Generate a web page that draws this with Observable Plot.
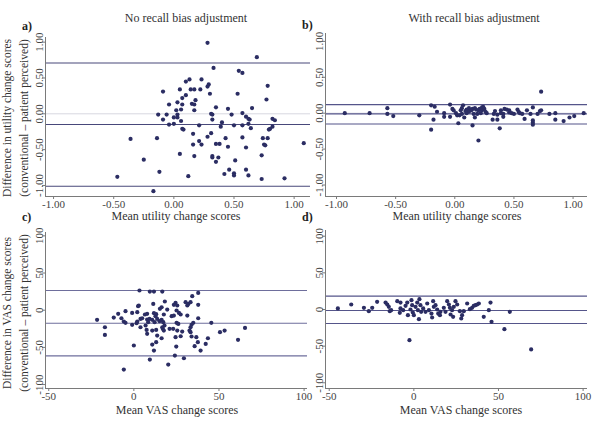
<!DOCTYPE html>
<html><head><meta charset="utf-8">
<script src="https://cdn.jsdelivr.net/npm/d3@7"></script>
<script src="https://cdn.jsdelivr.net/npm/@observablehq/plot@0.6"></script>
<style>
body{margin:0;background:#fff;}
#wrap{position:relative;width:600px;height:433px;overflow:hidden;font-family:"Liberation Serif","Times New Roman",serif;color:#333;background:#fff;}
.panel{position:absolute;}
.t{position:absolute;white-space:nowrap;transform:translate(-50%,-50%);line-height:1;}
.rot{transform:translate(-50%,-50%) rotate(-90deg);}
.tag{position:absolute;font-weight:bold;font-size:12px;line-height:1;color:#222;}
</style></head><body><div id="wrap"></div>
<script>
// ---------- data ----------
const utilTicks = [-1, -0.5, 0, 0.5, 1];
const vasXTicks = [-50, 0, 50, 100];
const vasYTicks = [-100, -50, 0, 50, 100];

const panelTitles = ["No recall bias adjustment", "With recall bias adjustment"];
const panelTags = ["a)", "b)", "c)", "d)"];
const xTitles = ["Mean utility change scores", "Mean utility change scores", "Mean VAS change scores", "Mean VAS change scores"];
const yTitleUtil = ["Difference in utility change scores", "(conventional \u2013 patient perceived)"];
const yTitleVAS = ["Difference in VAS change scores", "(conventional \u2013 patient perceived)"];

// mean, upper and lower limits of agreement
const aLines = [0.71, -0.15, -1.01];
const bLines = [0.12, -0.01, -0.15];
const cLines = [26.5, -17.5, -61.4];
const dLines = [18.2, -1.4, -19.1];

// [mean, difference]
const aPoints = [[0.28,0.99],[0.69,0.79],[0.33,0.64],[0.54,0.60],[0.57,0.57],[0.13,0.48],[0.23,0.48],[0.10,0.45],[0.28,0.38],[0.29,0.41],[0.78,0.39],[0.14,0.34],[0.17,0.34],[0.22,0.34],[0.05,0.34],[-0.09,0.31],[0.30,0.28],[0.53,0.28],[0.10,0.26],[0.07,0.22],[0.18,0.19],[0.77,0.20],[0.03,0.16],[-0.04,0.13],[0.07,0.13],[0.15,0.14],[0.17,0.13],[0.35,0.09],[0.45,0.07],[0.65,0.08],[0.06,0.06],[0.17,0.05],[0.02,0.05],[-0.13,-0.01],[-0.06,-0.01],[0.03,-0.01],[0.00,-0.05],[0.03,-0.05],[0.31,0.00],[0.32,-0.01],[0.57,0.01],[0.48,-0.01],[0.60,-0.04],[-0.09,-0.08],[0.06,-0.10],[0.32,-0.08],[0.40,-0.12],[0.62,-0.07],[0.63,-0.08],[0.82,-0.07],[0.84,-0.09],[0.62,-0.14],[0.00,-0.14],[-0.04,-0.15],[0.21,-0.16],[0.39,-0.18],[0.50,-0.16],[0.57,-0.16],[0.64,-0.20],[0.82,-0.18],[0.80,-0.21],[0.79,-0.22],[0.07,-0.21],[0.08,-0.22],[0.16,-0.28],[0.28,-0.32],[0.31,-0.27],[-0.36,-0.35],[-0.14,-0.34],[0.43,-0.34],[0.57,-0.33],[0.74,-0.34],[0.78,-0.34],[0.21,-0.38],[0.16,-0.43],[0.23,-0.43],[0.35,-0.42],[0.38,-0.42],[0.75,-0.43],[0.76,-0.44],[1.08,-0.41],[0.45,-0.46],[0.60,-0.47],[0.05,-0.56],[0.17,-0.59],[0.32,-0.59],[0.32,-0.61],[0.37,-0.61],[0.73,-0.58],[-0.25,-0.64],[0.35,-0.67],[0.51,-0.65],[0.46,-0.78],[0.60,-0.78],[-0.12,-0.81],[0.42,-0.84],[0.50,-0.83],[0.50,-0.86],[0.62,-0.86],[-0.47,-0.88],[0.12,-0.87],[0.73,-0.91],[0.92,-0.90],[-0.17,-1.08]];

const bPoints = [[-0.93,0.00],[-0.72,0.00],[-0.57,0.07],[-0.57,-0.01],[-0.52,-0.04],[-0.30,-0.03],[-0.20,-0.23],[-0.20,0.11],[-0.17,0.09],[-0.18,-0.09],[-0.15,0.02],[-0.09,0.00],[-0.09,-0.05],[-0.04,0.12],[-0.04,-0.05],[-0.02,0.06],[-0.01,0.04],[0.01,0.00],[0.02,-0.03],[0.03,-0.14],[0.05,0.04],[0.06,-0.01],[0.06,0.07],[0.07,0.11],[0.08,-0.06],[0.10,0.00],[0.10,0.05],[0.12,0.07],[0.15,-0.17],[0.14,0.04],[0.15,0.06],[0.16,-0.01],[0.17,-0.06],[0.17,0.07],[0.19,-0.01],[0.20,0.04],[0.20,-0.38],[0.21,0.06],[0.22,0.00],[0.23,0.08],[0.23,0.04],[0.24,0.09],[0.27,0.00],[0.32,-0.09],[0.33,-0.01],[0.34,0.03],[0.36,-0.09],[0.36,-0.02],[0.38,-0.21],[0.39,0.04],[0.39,0.00],[0.41,-0.01],[0.41,-0.05],[0.42,0.06],[0.44,0.05],[0.46,0.01],[0.46,0.04],[0.48,0.00],[0.50,-0.01],[0.53,0.05],[0.54,0.02],[0.55,0.00],[0.57,-0.01],[0.59,-0.08],[0.61,0.04],[0.64,-0.01],[0.66,-0.13],[0.66,-0.10],[0.66,-0.16],[0.66,0.08],[0.70,-0.01],[0.72,0.03],[0.73,0.30],[0.73,0.04],[0.80,-0.01],[0.85,0.00],[0.85,-0.09],[0.92,-0.11],[0.97,-0.06],[1.01,-0.04],[1.09,0.00],[0.12,0.02],[0.18,0.05],[0.25,0.06],[0.09,0.03],[0.04,-0.03],[0.26,0.02]];

const cPoints = [[3.3,26.5],[9.4,25.0],[11.8,25.0],[16.7,25.0],[37.8,23.3],[34.3,18.8],[18.2,11.7],[24.5,9.9],[30.4,10.8],[32.0,8.5],[33.3,10.8],[2.9,6.3],[2.5,5.4],[11.4,8.5],[23.5,7.2],[25.5,6.3],[31.4,6.3],[37.8,7.2],[16.3,4.0],[15.3,1.8],[-4.9,-1.3],[-1.0,-3.6],[2.0,-2.7],[19.6,0.9],[25.1,-0.4],[26.5,-3.6],[27.5,-5.8],[-9.2,-4.9],[6.5,-5.8],[7.8,-4.9],[11.8,-4.0],[13.1,-5.4],[12.7,-8.0],[17.6,-5.8],[22.2,-8.0],[23.5,-7.2],[31.4,-7.2],[37.8,-10.8],[-21.6,-13.0],[-11.8,-9.9],[-7.3,-10.8],[-5.9,-15.2],[-4.9,-17.0],[-1.0,-19.7],[1.6,-17.5],[2.0,-15.2],[3.9,-11.7],[4.9,-10.8],[7.8,-12.6],[8.4,-16.1],[9.2,-11.7],[10.8,-13.0],[12.2,-16.1],[13.7,-11.7],[15.1,-14.8],[16.3,-13.0],[17.3,-16.1],[18.0,-20.6],[16.7,-22.9],[17.0,-25.0],[17.6,-27.4],[25.1,-17.0],[26.1,-18.4],[33.3,-22.9],[33.9,-19.7],[34.9,-17.0],[45.5,-17.0],[-17.0,-22.9],[-17.0,-33.2],[3.9,-22.9],[6.9,-20.6],[7.5,-26.5],[7.8,-31.8],[10.8,-27.4],[13.1,-26.5],[13.7,-34.1],[16.3,-37.7],[21.0,-25.0],[23.1,-25.1],[24.5,-36.3],[25.5,-27.4],[28.4,-28.7],[27.5,-35.0],[32.7,-27.4],[33.3,-29.6],[33.9,-35.4],[36.7,-36.3],[37.6,-43.0],[43.5,-37.7],[42.2,-45.3],[50.6,-29.6],[53.3,-27.4],[65.3,-23.8],[61.2,-39.9],[0.0,-47.5],[10.8,-46.2],[11.8,-54.3],[13.1,-43.0],[24.9,-48.9],[35.7,-48.4],[39.2,-54.3],[24.1,-61.0],[29.4,-64.6],[9.4,-66.4],[20.2,-73.1],[-5.9,-79.8]];

const dPoints = [[-44.9,1.4],[-37.0,6.8],[-29.5,2.3],[-26.6,-2.3],[-24.6,2.3],[-21.7,10.5],[-16.7,9.5],[-15.7,6.8],[-14.8,3.6],[-14.2,-2.3],[-13.4,-0.9],[-9.8,11.4],[-7.9,9.5],[-7.9,1.4],[-8.3,-4.5],[-6.3,-0.9],[-4.9,5.0],[-3.9,9.5],[-3.5,-7.7],[-2.6,-41.8],[-2.0,0.0],[-1.4,12.7],[-1.0,5.9],[-0.6,-4.1],[0.0,-7.7],[1.0,3.6],[2.0,9.5],[2.4,-0.9],[3.0,-13.2],[3.3,14.1],[3.9,5.9],[4.3,-3.2],[5.5,1.4],[6.9,-3.2],[7.9,8.2],[8.9,-0.9],[10.4,-5.5],[10.8,-10.9],[11.4,11.4],[11.8,3.6],[12.8,5.9],[13.8,0.0],[14.4,-5.5],[15.4,-7.7],[15.7,-3.2],[17.7,2.3],[18.7,-3.2],[19.7,11.4],[20.7,6.8],[21.3,2.3],[21.7,-6.8],[22.6,-0.9],[23.2,-10.0],[23.6,3.6],[24.6,11.4],[25.6,6.8],[27.2,-2.3],[28.0,-12.3],[28.5,-7.7],[29.5,-2.3],[31.5,8.2],[33.1,0.5],[34.4,2.3],[35.4,5.0],[36.4,5.9],[37.4,6.8],[38.4,8.2],[41.3,-10.0],[44.3,-0.9],[45.3,9.5],[45.9,-16.8],[53.5,-26.8],[56.7,-3.2],[69.3,-54.5]];

// ---------- drawing ----------
const wrap = document.getElementById("wrap");
const POINT = "#2b2d63", LINE = "#55558a", AXIS = "#7a7a7a";
const fmtUtil = d => d.toFixed(2);
const fmtVAS = d => String(d);

function panel(cfg) {
  const {left, top, width, height, mL, mR, mT, mB, xDom, yDom, xTicks, yTicks, fmt, lines, points, zero, lineColor} = cfg;
  const marks = [];
  if (zero) marks.push(Plot.ruleY([0], {stroke: "#d8d8e0", strokeWidth: 1}));
  marks.push(Plot.ruleY(lines, {stroke: lineColor, strokeWidth: 1.1}));
  marks.push(Plot.dot(points, {x: d => d[0], y: d => d[1], r: 2.1, fill: POINT}));
  marks.push(Plot.axisX({ticks: xTicks, tickFormat: fmt, tickSize: 3, tickPadding: 1, label: null, stroke: AXIS, fill: "#444", fontSize: 11}));
  marks.push(Plot.axisY({ticks: yTicks, tickFormat: fmt, tickSize: 3, tickPadding: 0, tickRotate: -90, label: null, stroke: AXIS, fill: "#444", fontSize: 11}));
  marks.push(Plot.ruleX([xDom[0]], {stroke: AXIS}));
  marks.push(Plot.ruleY([yDom[0]], {stroke: AXIS}));
  const svg = Plot.plot({
    width, height, marginLeft: mL, marginRight: mR, marginTop: mT, marginBottom: mB,
    x: {domain: xDom}, y: {domain: yDom},
    style: {background: "transparent", overflow: "visible", fontFamily: "'Liberation Serif', 'Times New Roman', serif", fontSize: "11px"},
    marks
  });
  const div = document.createElement("div");
  div.className = "panel";
  div.style.left = left + "px"; div.style.top = top + "px";
  div.appendChild(svg);
  wrap.appendChild(div);
}

panel({left: 0, top: 0, width: 310, height: 215, mL: 45, mR: 0, mT: 37, mB: 19,
  xDom: [-1.067, 1.136], yDom: [-1.154, 1.065], xTicks: utilTicks, yTicks: utilTicks, fmt: fmtUtil,
  lines: aLines, points: aPoints, zero: true, lineColor: "#48487a"});
panel({left: 300, top: 0, width: 300, height: 215, mL: 25, mR: 13, mT: 33, mB: 19,
  xDom: [-1.093, 1.122], yDom: [-1.16, 1.11], xTicks: utilTicks, yTicks: utilTicks, fmt: fmtUtil,
  lines: bLines, points: bPoints, zero: true, lineColor: "#55558a"});
panel({left: 0, top: 215, width: 310, height: 218, mL: 45, mR: 3, mT: 17, mB: 45,
  xDom: [-51.9, 102], yDom: [-105.3, 104.5], xTicks: vasXTicks, yTicks: vasYTicks, fmt: fmtVAS,
  lines: cLines, points: cPoints, zero: false, lineColor: "#6e6e9c"});
panel({left: 300, top: 215, width: 300, height: 218, mL: 25, mR: 13, mT: 15, mB: 45,
  xDom: [-52.2, 102.6], yDom: [-107.8, 107.8], xTicks: vasXTicks, yTicks: vasYTicks, fmt: fmtVAS,
  lines: dLines, points: dPoints, zero: false, lineColor: "#55558a"});

function text(str, x, y, size, cls) {
  const d = document.createElement("div");
  d.className = "t" + (cls ? " " + cls : "");
  d.style.left = x + "px"; d.style.top = y + "px"; d.style.fontSize = size + "px";
  d.textContent = str;
  wrap.appendChild(d);
}
function tag(str, x, y) {
  const d = document.createElement("div");
  d.className = "tag"; d.style.left = x + "px"; d.style.top = y + "px";
  d.textContent = str; wrap.appendChild(d);
}

text(panelTitles[0], 186, 18, 12);
text(panelTitles[1], 474, 18, 12);
text(xTitles[0], 176, 216, 12);
text(xTitles[1], 457, 216, 12);
text(xTitles[2], 177, 410, 12);
text(xTitles[3], 461, 410, 12);
text(yTitleUtil[0], 8, 118, 11.5, "rot");
text(yTitleUtil[1], 25, 118, 11.5, "rot");
text(yTitleVAS[0], 8, 313, 11.5, "rot");
text(yTitleVAS[1], 25, 313, 11.5, "rot");
tag(panelTags[0], 22, 20);
tag(panelTags[1], 302, 19);
tag(panelTags[2], 22, 211);
tag(panelTags[3], 302, 211);
</script></body></html>
